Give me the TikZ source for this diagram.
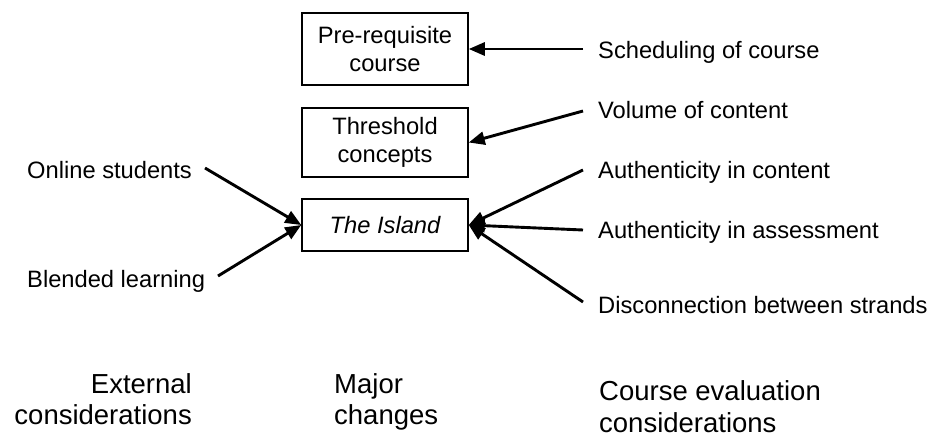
\documentclass[tikz,border=0pt]{standalone}
\usepackage{fontspec}
\setmainfont{Liberation Sans}
\usetikzlibrary{arrows.meta}
\begin{document}
\begin{tikzpicture}[x=1pt,y=-1pt,
  box/.style={draw,line width=1.5pt,minimum width=166pt,inner sep=0pt,align=center,
    font=\fontsize{23.7}{28}\selectfont},
  lbl/.style={inner sep=0pt,anchor=base west,font=\fontsize{23.7}{28}\selectfont},
  cat/.style={inner sep=0pt,font=\fontsize{27.5}{31}\selectfont},
  arr/.style={line width=2.9pt,-{Triangle[length=16pt,width=13pt]}}]
\useasboundingbox (0,0) rectangle (930,437);
% boxes
\node[box,minimum height=72pt] (pre) at (385,49) {Pre-requisite\\course};
\node[box,minimum height=69pt] (thr) at (385,142.5) {Threshold\\concepts};
\node[box,minimum height=52pt] (isl) at (385,225) {\itshape The Island};
% right labels
\node[lbl] (sched) at (598,58) {Scheduling of course};
\node[lbl] (vol) at (598,118) {Volume of content};
\node[lbl] (authc) at (598,178) {Authenticity in content};
\node[lbl] (autha) at (598,238) {Authenticity in assessment};
\node[lbl] (disc) at (598,313) {Disconnection between strands};
% left labels
\node[lbl] (online) at (27,178) {Online students};
\node[lbl] (blend) at (27,287) {Blended learning};
% arrow tails
\coordinate (t1) at (583,49);
\coordinate (t2) at (583,111);
\coordinate (t3) at (583,170);
\coordinate (t4) at (583,230);
\coordinate (t5) at (583,302);
\coordinate (t6) at (205,168);
\coordinate (t7) at (218,276);
% arrows
\draw[arr] (t1) -- (pre.east);
\draw[arr] (t2) -- (thr.east);
\draw[arr] (t3) -- (isl.east);
\draw[arr] (t4) -- (isl.east);
\draw[arr] (t5) -- (isl.east);
\draw[arr] (t6) -- (isl.west);
\draw[arr] (t7) -- (isl.west);
% category labels
\node[cat,anchor=base east] (ext1) at (192,393) {External};
\node[cat,anchor=base east] (ext2) at (192,424) {considerations};
\node[cat,anchor=base west] (maj1) at (334,393) {Major};
\node[cat,anchor=base west] (maj2) at (334,424) {changes};
\node[cat,anchor=base west] (ce1) at (599,400) {Course evaluation};
\node[cat,anchor=base west] (ce2) at (599,432) {considerations};
\end{tikzpicture}
\end{document}
